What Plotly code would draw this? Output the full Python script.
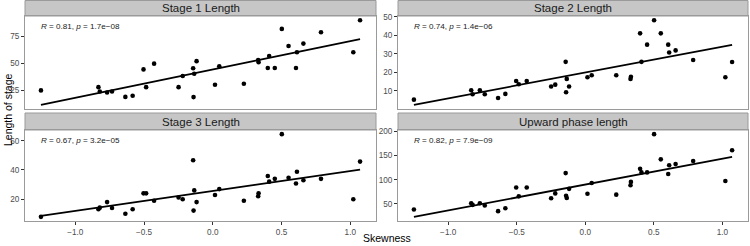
import numpy as np
import plotly.graph_objects as go

# ---- data ----
skewness = [-1.250, -0.832, -0.822, -0.769, -0.733, -0.636, -0.583, -0.504, -0.485, -0.427,
            -0.249, -0.219, -0.143, -0.140, -0.135, -0.118, 0.016, 0.047, 0.226, 0.330,
            0.333, 0.400, 0.410, 0.451, 0.502, 0.551, 0.605, 0.612, 0.659, 0.787,
            1.022, 1.071]
stage1_length = [25, 28, 24, 23, 24, 19, 20, 44.4, 28, 49.7,
                 28, 38.3, 45.4, 18.8, 40.4, 52, 30.2, 47.2, 31.2, 53,
                 51, 45.7, 56.8, 45.7, 81.8, 66, 45.7, 60.2, 68.2, 78.7,
                 60.2, 89.8]
stage2_length = [5.3, 10.4, 8.2, 10.4, 8.2, 6.2, 8.4, 15.4, 13.6, 15.4,
                 12.4, 13.4, 25.7, 9.3, 16.5, 12.4, 17.4, 18.5, 18.5, 16.5,
                 17.6, 41.1, 25.7, 35, 48.2, 41.1, 35, 30.8, 31.9, 26.7,
                 17.4, 25.6]
stage3_length = [7.9, 13.1, 14.2, 18, 14, 10, 13.1, 24, 24, 18.9,
                 21.1, 20, 46.6, 12.2, 26, 18, 22.9, 26.9, 18.9, 22,
                 24, 35.9, 32, 33.9, 64.5, 34.7, 30.7, 38.8, 33, 33.9,
                 20, 45.7]
upward_length = [38.5, 51.4, 48, 51.4, 46.6, 35, 41, 83.8, 65.5, 83.8,
                 61.5, 71.6, 113.5, 66.9, 62.2, 81, 71, 93.2, 69, 88.5,
                 95.3, 122.3, 114.9, 114.9, 193.9, 141.9, 111.5, 129.7, 132.4, 138.5,
                 97.3, 160.8]
panel_titles = ["Stage 1 Length", "Stage 2 Length", "Stage 3 Length", "Upward phase length"]
cor_labels = ["<i>R</i> = 0.81, <i>p</i> = 1.7e\u221208",
              "<i>R</i> = 0.74, <i>p</i> = 1.4e\u221206",
              "<i>R</i> = 0.67, <i>p</i> = 3.2e\u221205",
              "<i>R</i> = 0.82, <i>p</i> = 7.9e\u221209"]
y_dticks = [25, 10, 20, 50]
x_tickvals = [-1.0, -0.5, 0.0, 0.5, 1.0]

series = [stage1_length, stage2_length, stage3_length, upward_length]

# ---- layout geometry ----
W, H = 750, 246
ML, MR, MT, MB = 25, 2, 0, 25
PW, PH = W - ML - MR, H - MT - MB
def px_x(p): return (p - ML) / PW
def px_y(p): return (H - MB - p) / PH

x_domains = [[px_x(25), px_x(376)], [px_x(398), px_x(748)]]
panel_y = [[px_y(109), px_y(16)], [px_y(221), px_y(130)]]
strip_y = [[px_y(16), px_y(0.5)], [px_y(130), px_y(113)]]

FONT = "Liberation Sans, Arial, sans-serif"
BORDER = "#9a9a9a"
STRIP_FILL = "#c6c6c6"

xs = np.array(skewness)
xlo, xhi = xs.min(), xs.max()
xpad = (xhi - xlo) * 0.05
xrange_ = [xlo - xpad, xhi + xpad]

fig = go.Figure()
shapes, annotations = [], []
layout = {}

for i, ys in enumerate(series):
    row, col = divmod(i, 2)
    idx = i + 1
    xa = "x" if idx == 1 else f"x{idx}"
    ya = "y" if idx == 1 else f"y{idx}"
    yv = np.array(ys)
    slope, icpt = np.polyfit(xs, yv, 1)
    lx = np.array([xlo, xhi])
    ly = slope * lx + icpt
    fig.add_trace(go.Scatter(x=xs, y=yv, mode="markers", xaxis=xa, yaxis=ya,
                             marker=dict(color="black", size=4.6), showlegend=False,
                             hoverinfo="skip"))
    fig.add_trace(go.Scatter(x=lx, y=ly, mode="lines", xaxis=xa, yaxis=ya,
                             line=dict(color="black", width=1.8), showlegend=False,
                             hoverinfo="skip"))
    lo = min(yv.min(), ly.min())
    hi = max(yv.max(), ly.max())
    pad = (hi - lo) * 0.05
    bottom = row == 1
    layout[f"xaxis{'' if idx == 1 else idx}"] = dict(
        domain=x_domains[col], range=xrange_, anchor=ya, automargin=False,
        showgrid=False, zeroline=False, showline=True, mirror=True,
        linecolor=BORDER, linewidth=1,
        ticks="outside" if bottom else "", ticklen=3, tickcolor="#333333",
        showticklabels=bottom, tickvals=x_tickvals, tickformat=".1f",
        tickfont=dict(family=FONT, size=8.2, color="#4d4d4d"),
    )
    layout[f"yaxis{'' if idx == 1 else idx}"] = dict(
        domain=panel_y[row], range=[lo - pad, hi + pad], anchor=xa, automargin=False,
        showgrid=False, zeroline=False, showline=True, mirror=True,
        linecolor=BORDER, linewidth=1,
        ticks="outside", ticklen=3, tickcolor="#333333", dtick=y_dticks[i],
        tickfont=dict(family=FONT, size=8.2, color="#4d4d4d"),
    )
    # strip
    shapes.append(dict(type="rect", xref="paper", yref="paper",
                       x0=x_domains[col][0], x1=x_domains[col][1],
                       y0=strip_y[row][0], y1=strip_y[row][1],
                       fillcolor=STRIP_FILL, line=dict(color=BORDER, width=1), layer="below"))
    annotations.append(dict(xref="paper", yref="paper",
                            x=(x_domains[col][0] + x_domains[col][1]) / 2,
                            y=(strip_y[row][0] + strip_y[row][1]) / 2,
                            text=panel_titles[i], showarrow=False,
                            font=dict(family=FONT, size=11.5, color="#1a1a1a"),
                            xanchor="center", yanchor="middle"))
    annotations.append(dict(xref=f"{xa} domain", yref=f"{ya} domain",
                            x=0.041, y=0.882, text=cor_labels[i], showarrow=False,
                            font=dict(family=FONT, size=8.1, color="#222222"),
                            xanchor="left", yanchor="middle"))

annotations.append(dict(xref="paper", yref="paper", x=0.5, y=px_y(238),
                        text="Skewness", showarrow=False,
                        font=dict(family=FONT, size=10.5, color="black"),
                        xanchor="center", yanchor="middle"))
annotations.append(dict(xref="paper", yref="paper", x=px_x(8), y=px_y(110),
                        text="Length of stage", showarrow=False, textangle=-90,
                        font=dict(family=FONT, size=10.5, color="black"),
                        xanchor="center", yanchor="middle"))

fig.update_layout(
    width=W, height=H,
    margin=dict(l=ML, r=MR, t=MT, b=MB, autoexpand=False),
    paper_bgcolor="white", plot_bgcolor="white",
    shapes=shapes, annotations=annotations,
    **layout,
)
fig.write_html("out.html", config={"displayModeBar": False},
               post_script="document.body.style.margin='0';document.body.style.padding='0';")
